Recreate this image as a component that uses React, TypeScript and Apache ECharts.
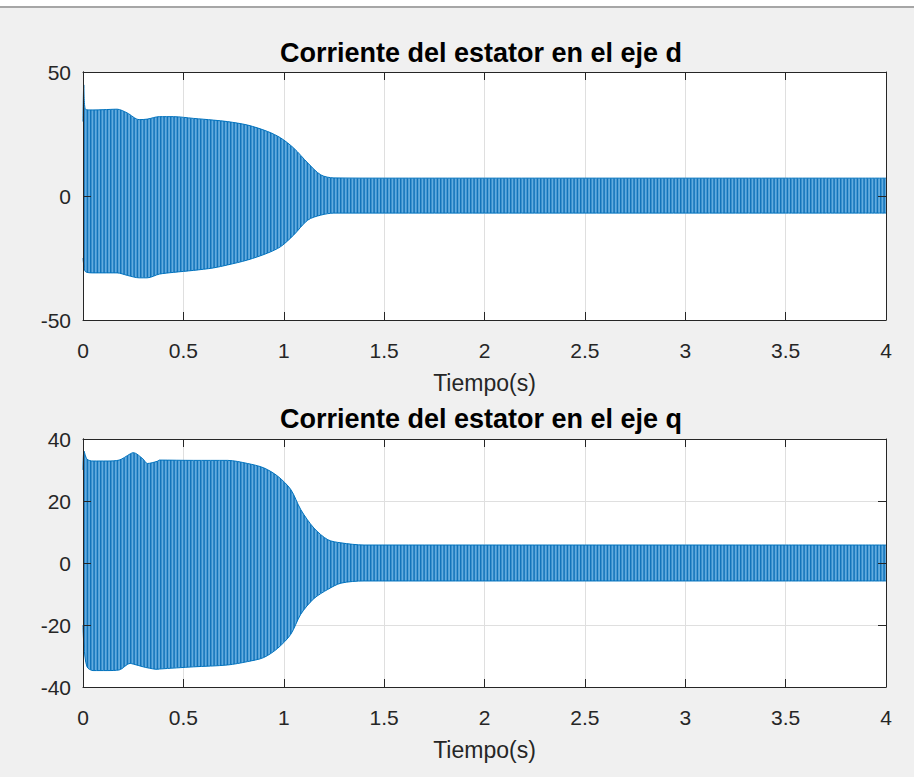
import React, { useEffect, useRef } from "react";
import * as echarts from "echarts";

// ---- Data (envelope of the oscillating currents) ----
const timeD = [0, 0.004, 0.012, 0.05, 0.1, 0.17, 0.22, 0.28, 0.32, 0.38, 0.45, 0.55, 0.65, 0.72, 0.82, 0.92, 0.985, 1.05, 1.12, 1.185, 1.25, 1.5, 2, 2.5, 3, 3.5, 4];
const upperD = [30, 44.8, 35, 34.7, 34.8, 35, 33.5, 30.8, 31, 32, 32, 31.3, 30.6, 30, 28.6, 26, 23.4, 19.3, 13.3, 8.5, 7.3, 7.2, 7.2, 7.2, 7.2, 7.2, 7.2];
const lowerD = [-25, -28, -30.5, -31, -31, -31, -32, -33, -33, -31.5, -30.8, -30, -29, -27.8, -25.8, -23, -20.4, -15.7, -9.7, -7.7, -6.9, -6.9, -6.9, -6.9, -6.9, -6.9, -6.9];

const timeQ = [0, 0.005, 0.02, 0.05, 0.12, 0.18, 0.235, 0.25, 0.3, 0.32, 0.37, 0.38, 0.55, 0.72, 0.82, 0.9, 0.97, 1.035, 1.085, 1.15, 1.22, 1.285, 1.4, 2, 2.5, 3, 3.5, 4];
const upperQ = [30, 36.1, 33.5, 32.9, 32.9, 33.2, 35.2, 35.6, 33.5, 32.1, 32.8, 33.2, 33.1, 33.1, 32.1, 30.7, 28, 23.7, 17.2, 11.3, 7.5, 6.5, 5.8, 5.8, 5.8, 5.8, 5.8, 5.8];
const lowerQ = [-20, -27, -33.5, -34.7, -34.7, -34.5, -32.4, -32.6, -33.5, -33.8, -34.3, -34.2, -33.5, -32.9, -31.8, -30.5, -27.5, -23, -16.5, -11.5, -8.5, -6.5, -5.8, -5.8, -5.8, -5.8, -5.8, -5.8];

const xTicks = { min: 0, max: 4, interval: 0.5 };
const yTicksD = { min: -50, max: 50, interval: 50 };
const yTicksQ = { min: -40, max: 40, interval: 20 };

const titles = ["Corriente del estator en el eje d", "Corriente del estator en el eje q"];
const xName = "Tiempo(s)";

const FONT = "'Liberation Sans', Arial, Helvetica, sans-serif";
const AX = "#262626";
const BLUE = "#0072BD";

const stripeSvg =
  "<svg xmlns='http://www.w3.org/2000/svg' width='10' height='10'>" +
  "<rect width='10' height='10' fill='#63acdf'/>" +
  "<rect x='0' width='1.5' height='10' fill='#1274bb'/>" +
  "<rect x='3.33' width='1.5' height='10' fill='#1274bb'/>" +
  "<rect x='6.67' width='1.5' height='10' fill='#1274bb'/>" +
  "</svg>";
const stripeUrl = "data:image/svg+xml;charset=utf-8," + encodeURIComponent(stripeSvg);

function envSeries(times: number[], vals: number[], idx: number) {
  return {
    type: "line",
    xAxisIndex: idx,
    yAxisIndex: idx,
    data: times.map((t, i) => [t, vals[i]]),
    symbol: "none",
    smooth: 0.3,
    lineStyle: { color: BLUE, width: 1 },
    areaStyle: {
      origin: "auto",
      color: { image: stripeUrl, repeat: "repeat", imageWidth: 10, imageHeight: 10 },
      opacity: 1,
    },
    z: 2,
  };
}

const tickOnly = (extra: any) => ({
  type: "value",
  z: 5,
  axisLine: { show: true, onZero: false, lineStyle: { color: AX, width: 1 } },
  axisTick: { show: true, inside: true, length: 8, lineStyle: { color: AX } },
  axisLabel: { show: false },
  splitLine: { show: false },
  ...extra,
});

export default function App() {
  const ref = useRef<HTMLDivElement>(null);
  useEffect(() => {
    if (!ref.current) return;
    const chart = echarts.init(ref.current, null, { renderer: "svg" });
    const grids = [
      { left: 83, right: 28, top: 72, bottom: 457 },
      { left: 83, right: 28, top: 439, bottom: 90 },
    ];
    const xAxes: any[] = [];
    const yAxes: any[] = [];
    const yt = [yTicksD, yTicksQ];
    grids.forEach((_, gi) => {
      xAxes.push({
        type: "value",
        gridIndex: gi,
        ...xTicks,
        position: "bottom",
        name: xName,
        nameLocation: "middle",
        nameGap: 51,
        nameTextStyle: { fontFamily: FONT, fontSize: 23, color: AX },
        axisLine: { show: true, onZero: false, lineStyle: { color: AX, width: 1 } },
        axisTick: { show: true, inside: true, length: 8, lineStyle: { color: AX } },
        axisLabel: { fontFamily: FONT, fontSize: 21, color: AX, margin: 20 },
        splitLine: { show: true, lineStyle: { color: "#dfdfdf", width: 1 } },
      });
      yAxes.push({
        type: "value",
        gridIndex: gi,
        ...yt[gi],
        position: "left",
        axisLine: { show: true, onZero: false, lineStyle: { color: AX, width: 1 } },
        axisTick: { show: false },
        axisLabel: { fontFamily: FONT, fontSize: 21, color: AX, margin: 12 },
        splitLine: { show: true, lineStyle: { color: "#dfdfdf", width: 1 } },
      });
    });
    // tick-only axes drawn above the data (MATLAB box ticks)
    grids.forEach((_, gi) => {
      xAxes.push(tickOnly({ gridIndex: gi, ...xTicks, position: "top" }));
      yAxes.push(tickOnly({ gridIndex: gi, ...yt[gi], position: "right" }));
      yAxes.push(tickOnly({ gridIndex: gi, ...yt[gi], position: "left" }));
    });

    chart.setOption({
      animation: false,
      backgroundColor: "#f0f0f0",
      grid: grids.map((g) => ({ ...g, show: true, backgroundColor: "#ffffff", borderColor: AX, borderWidth: 0 })),
      xAxis: xAxes,
      yAxis: yAxes,
      series: [
        envSeries(timeD, upperD, 0),
        envSeries(timeD, lowerD, 0),
        envSeries(timeQ, upperQ, 1),
        envSeries(timeQ, lowerQ, 1),
      ],
      graphic: [
        { type: "rect", shape: { x: 0, y: 0, width: 914, height: 6 }, style: { fill: "#ffffff" }, silent: true },
        { type: "rect", shape: { x: 0, y: 6, width: 914, height: 2 }, style: { fill: "#a6a6a6" }, silent: true },
        {
          type: "text", x: 481, y: 53,
          style: { text: titles[0], fontFamily: FONT, fontSize: 27, fontWeight: "bold", fill: "#000", textAlign: "center", textVerticalAlign: "middle" },
        },
        {
          type: "text", x: 481, y: 419,
          style: { text: titles[1], fontFamily: FONT, fontSize: 27, fontWeight: "bold", fill: "#000", textAlign: "center", textVerticalAlign: "middle" },
        },
      ],
    });
    return () => chart.dispose();
  }, []);
  return (
    <div
      ref={ref}
      style={{ position: "fixed", left: 0, top: 0, width: 914, height: 777 }}
    />
  );
}
